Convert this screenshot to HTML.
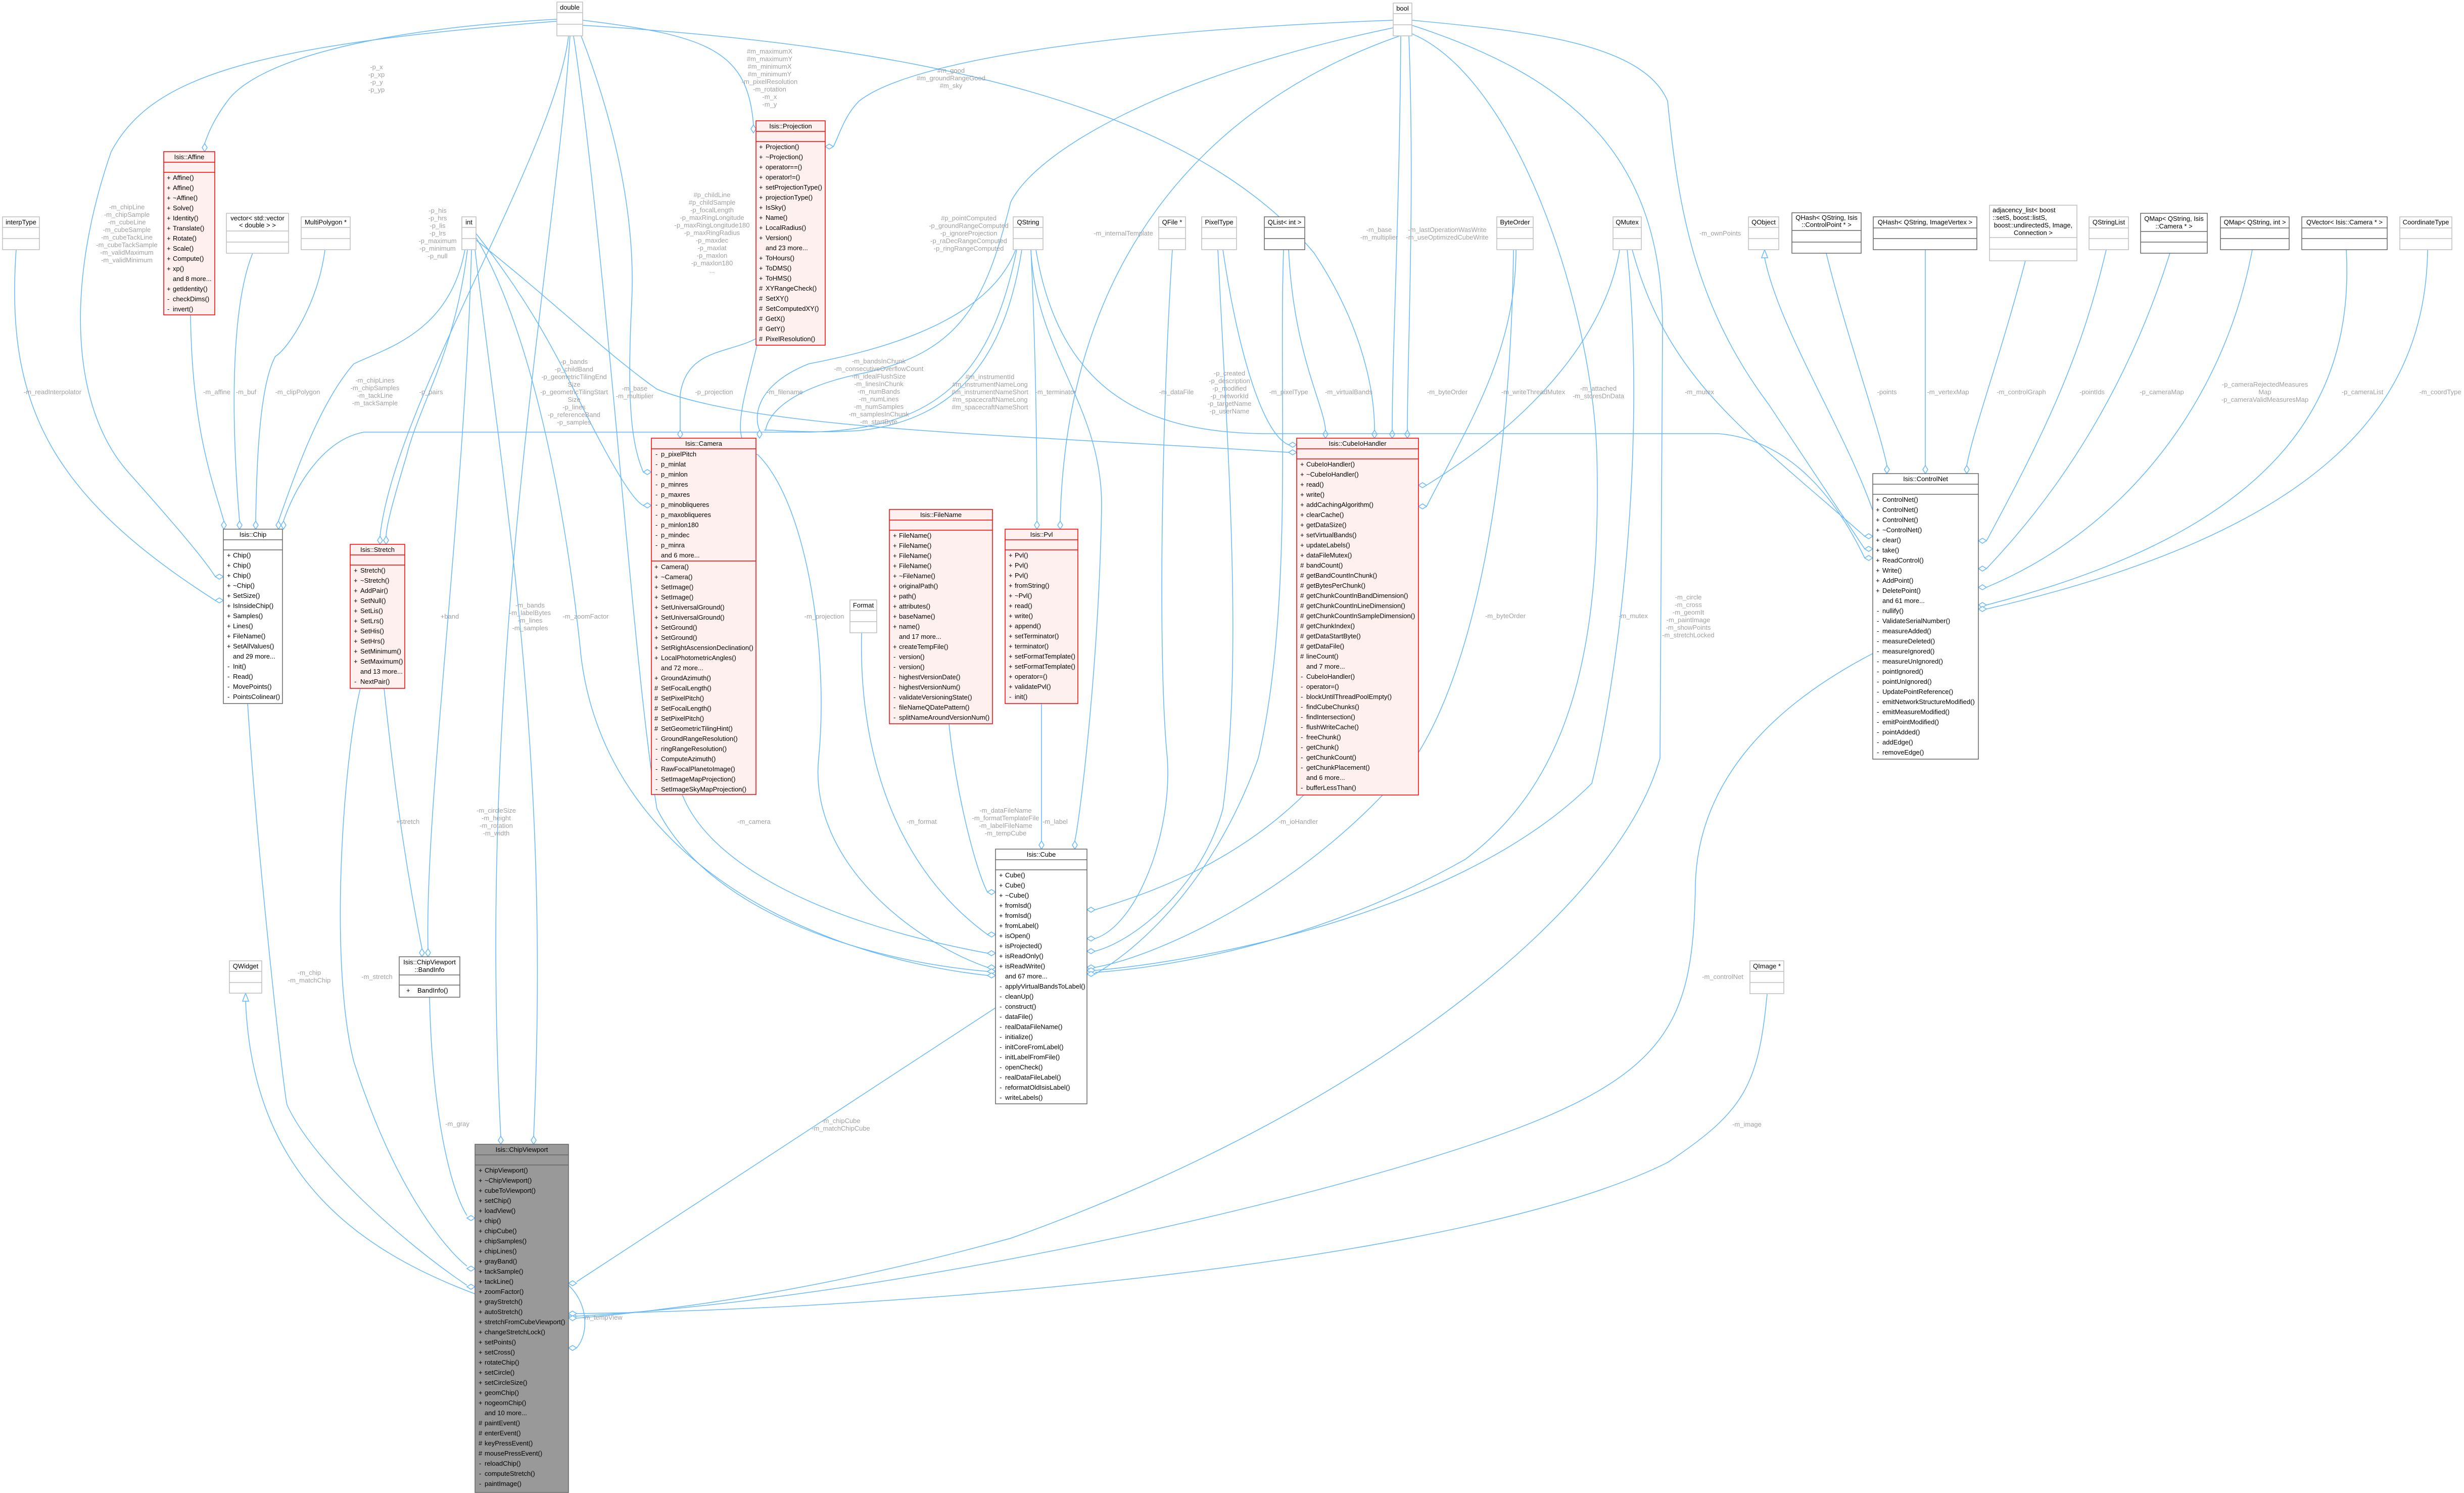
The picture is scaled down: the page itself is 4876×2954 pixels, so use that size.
<!DOCTYPE html>
<html><head><meta charset="utf-8"><style>
html,body{margin:0;padding:0;background:#fff}
svg{display:block}
text{font-family:"Liberation Sans",Arial,sans-serif;font-size:13px;fill:#000}
.l{fill:#a0a0a0;text-anchor:middle}
.c{text-anchor:middle}
.e{fill:none;stroke:#63b8ff;stroke-width:1.5}
.d{fill:#fff;stroke:#63b8ff;stroke-width:1.5}
.bg{fill:#fff;stroke:#bfbfbf;stroke-width:1.5}
.bd{fill:#fff;stroke:#666;stroke-width:1.5}
.br{fill:#fff0f0;stroke:#ff0000;stroke-width:1.5}
.bv{fill:#999;stroke:#666;stroke-width:1.5}
.sg{stroke:#bfbfbf;stroke-width:1.5}
.sd{stroke:#666;stroke-width:1.5}
.sr{stroke:#ff0000;stroke-width:1.5}
</style></head><body>
<svg width="4876" height="2954" viewBox="0 0 4876 2954" xmlns="http://www.w3.org/2000/svg">

<!-- EDGES -->
<g>
<path class="e" d="M1102,38 C700,60 500,130 450,200 C420,240 410,270 405,284"/><polygon class="d" points="405,300 400,292 405,284 410,292"/>
<path class="e" d="M1102,42 C500,90 300,150 220,300 C130,560 140,800 250,930 C330,1020 400,1100 426,1141"/><polygon class="d" points="442,1141 434,1136 426,1141 434,1146"/>
<path class="e" d="M32,494 C10,800 100,980 426,1188"/><polygon class="d" points="442,1188 434,1183 426,1188 434,1193"/>
<path class="e" d="M377,623 C380,850 420,950 443,1031"/><polygon class="d" points="443,1047 438,1039 443,1031 448,1039"/>
<path class="e" d="M500,501 C460,600 455,800 474,1031"/><polygon class="d" points="474,1047 469,1039 474,1031 479,1039"/>
<path class="e" d="M643,494 C630,600 570,690 545,705 C515,760 508,900 506,1031"/><polygon class="d" points="506,1047 501,1039 506,1031 511,1039"/>
<path class="e" d="M920,494 C890,660 760,690 700,720 C630,800 580,950 551,1031"/><polygon class="d" points="551,1047 546,1039 551,1031 556,1039"/>
<path class="e" d="M2012,494 C1960,750 1850,850 1600,855 L720,855 C640,870 585,960 561,1031"/><polygon class="d" points="561,1047 556,1039 561,1031 566,1039"/>
<path class="e" d="M1125,71 C1100,300 780,800 752,1061"/><polygon class="d" points="752,1077 747,1069 752,1061 757,1069"/>
<path class="e" d="M925,494 C900,700 830,800 805,900 C775,1000 765,1040 764,1061"/><polygon class="d" points="764,1077 759,1069 764,1061 769,1069"/>
<path class="e" d="M760,1362 C780,1550 800,1700 835,1877"/><polygon class="d" points="835,1893 830,1885 835,1877 840,1885"/>
<path class="e" d="M933,494 C920,1000 840,1600 847,1877"/><polygon class="d" points="847,1893 842,1885 847,1877 852,1885"/>
<path class="e" d="M713,1362 C680,1500 650,1900 700,2100 C780,2350 880,2470 924,2505"/><polygon class="d" points="940,2510 932,2505 924,2510 932,2515"/>
<path class="e" d="M490,1392 C510,1700 560,2150 568,2186 C620,2300 800,2460 924,2543"/><polygon class="d" points="940,2546 932,2541 924,2546 932,2551"/>
<path class="e" d="M940,2560 C700,2470 500,2320 486,1981"/><polygon class="d" points="486,1965 480,1981 492,1981"/>
<path class="e" d="M850,1973 C855,2200 890,2350 924,2405"/><polygon class="d" points="940,2410 932,2405 924,2410 932,2415"/>
<path class="e" d="M1128,71 C1100,500 940,1300 991,2248"/><polygon class="d" points="991,2264 986,2256 991,2248 996,2256"/>
<path class="e" d="M940,494 C1000,1000 1090,1500 1056,2248"/><polygon class="d" points="1056,2264 1051,2256 1056,2248 1061,2256"/>
<path class="e" d="M1970,1994 L1141,2536"/><polygon class="d" points="1125,2539 1133,2534 1141,2539 1133,2544"/>
<path class="e" d="M1125,2543 C1165,2580 1165,2640 1141,2667"/><polygon class="d" points="1125,2667 1133,2662 1141,2667 1133,2672"/>
<path class="e" d="M3706,1293 C3500,1400 3360,1550 3355,1750 C3350,2050 3300,2150 2800,2300 C2300,2450 1600,2580 1141,2604"/><polygon class="d" points="1125,2604 1133,2599 1141,2604 1133,2609"/>
<path class="e" d="M3497,1966 C3480,2150 3450,2200 3300,2300 C2900,2500 1800,2590 1141,2599"/><polygon class="d" points="1125,2599 1133,2594 1141,2599 1133,2604"/>
<path class="e" d="M2794,50 C3100,150 3290,300 3290,650 L3285,1500 C3200,1800 2700,2200 2000,2450 C1600,2560 1300,2595 1141,2608"/><polygon class="d" points="1125,2608 1133,2603 1141,2608 1133,2613"/>
<path class="e" d="M1878,1432 C1890,1560 1930,1720 1954,1765"/><polygon class="d" points="1970,1765 1962,1760 1954,1765 1962,1770"/>
<path class="e" d="M1705,1252 C1700,1450 1750,1700 1954,1849"/><polygon class="d" points="1970,1849 1962,1844 1954,1849 1962,1854"/>
<path class="e" d="M1350,1572 C1400,1700 1600,1820 1954,1886"/><polygon class="d" points="1970,1886 1962,1881 1954,1886 1962,1891"/>
<path class="e" d="M1498,683 C1470,800 1440,880 1500,900 C1600,1000 1640,1300 1620,1500 C1600,1700 1800,1860 1954,1914"/><polygon class="d" points="1970,1914 1962,1909 1954,1914 1962,1919"/>
<path class="e" d="M1135,71 C1200,500 1250,1300 1300,1600 C1400,1800 1700,1900 1954,1922"/><polygon class="d" points="1970,1922 1962,1917 1954,1922 1962,1927"/>
<path class="e" d="M942,470 C1050,650 1120,1000 1150,1300 C1200,1700 1600,1890 1954,1930"/><polygon class="d" points="1970,1930 1962,1925 1954,1930 1962,1935"/>
<path class="e" d="M2061,1392 L2061,1664"/><polygon class="d" points="2061,1680 2056,1672 2061,1664 2066,1672"/>
<path class="e" d="M2040,494 C2050,700 2180,800 2180,1000 C2175,1300 2140,1600 2127,1664"/><polygon class="d" points="2127,1680 2122,1672 2127,1664 2132,1672"/>
<path class="e" d="M2580,1573 C2450,1700 2300,1760 2167,1800"/><polygon class="d" points="2151,1800 2159,1795 2167,1800 2159,1805"/>
<path class="e" d="M2320,494 C2300,800 2290,1300 2310,1500 C2320,1650 2250,1830 2167,1857"/><polygon class="d" points="2151,1857 2159,1852 2167,1857 2159,1862"/>
<path class="e" d="M2410,494 C2430,900 2460,1300 2420,1600 C2380,1750 2250,1860 2167,1882"/><polygon class="d" points="2151,1882 2159,1877 2167,1882 2159,1887"/>
<path class="e" d="M2995,494 C2990,900 2930,1300 2800,1500 C2600,1750 2300,1890 2167,1914"/><polygon class="d" points="2151,1914 2159,1909 2167,1914 2159,1919"/>
<path class="e" d="M3220,494 C3260,900 3200,1350 3150,1550 C2900,1800 2400,1900 2167,1920"/><polygon class="d" points="2151,1920 2159,1915 2167,1920 2159,1925"/>
<path class="e" d="M2540,494 C2530,800 2560,1200 2490,1500 C2400,1750 2250,1880 2167,1927"/><polygon class="d" points="2151,1927 2159,1922 2167,1927 2159,1932"/>
<path class="e" d="M2790,65 C3000,150 3150,600 3160,900 C3170,1300 3100,1550 2900,1700 C2600,1870 2300,1915 2167,1924"/>
<path class="e" d="M2550,494 C2560,700 2620,800 2623,851"/><polygon class="d" points="2623,867 2618,859 2623,851 2628,859"/>
<path class="e" d="M1153,50 C1800,90 2350,200 2600,500 C2700,650 2720,780 2720,851"/><polygon class="d" points="2720,867 2715,859 2720,851 2725,859"/>
<path class="e" d="M2772,71 C2770,400 2755,700 2755,851"/><polygon class="d" points="2755,867 2750,859 2755,851 2760,859"/>
<path class="e" d="M2788,71 C2800,400 2785,700 2785,851"/><polygon class="d" points="2785,867 2780,859 2785,851 2790,859"/>
<path class="e" d="M2420,494 C2450,700 2500,860 2550,880"/><polygon class="d" points="2566,880 2558,875 2550,880 2558,885"/>
<path class="e" d="M942,475 C1100,600 1200,700 1300,770 C1500,850 2000,860 2550,895"/><polygon class="d" points="2566,895 2558,890 2550,895 2558,900"/>
<path class="e" d="M3000,494 C3000,700 2900,850 2823,1002"/><polygon class="d" points="2807,1002 2815,997 2823,1002 2815,1007"/>
<path class="e" d="M3205,494 C3180,650 3050,820 2823,960"/><polygon class="d" points="2807,960 2815,955 2823,960 2815,965"/>
<path class="e" d="M3614,501 C3650,650 3720,850 3734,921"/><polygon class="d" points="3734,937 3729,929 3734,921 3739,929"/>
<path class="e" d="M3810,494 L3810,921"/><polygon class="d" points="3810,937 3805,929 3810,921 3815,929"/>
<path class="e" d="M4008,516 C3960,700 3905,850 3892,921"/><polygon class="d" points="3892,937 3887,929 3892,921 3897,929"/>
<path class="e" d="M4168,494 C4120,700 4050,850 3931,1070"/><polygon class="d" points="3915,1070 3923,1065 3931,1070 3923,1075"/>
<path class="e" d="M4294,501 C4200,800 4050,1000 3931,1125"/><polygon class="d" points="3915,1125 3923,1120 3931,1125 3923,1130"/>
<path class="e" d="M4457,494 C4400,800 4200,1050 3931,1162"/><polygon class="d" points="3915,1162 3923,1157 3931,1162 3923,1167"/>
<path class="e" d="M4643,494 C4660,800 4500,1050 3931,1197"/><polygon class="d" points="3915,1197 3923,1192 3931,1197 3923,1202"/>
<path class="e" d="M4804,494 C4800,800 4600,1050 3931,1205"/><polygon class="d" points="3915,1205 3923,1200 3931,1205 3923,1210"/>
<path class="e" d="M3706,1010 C3650,850 3520,650 3492,510"/><polygon class="d" points="3492,494 3486,510 3498,510"/>
<path class="e" d="M3230,494 C3300,750 3450,850 3690,1061"/><polygon class="d" points="3706,1061 3698,1056 3690,1061 3698,1066"/>
<path class="e" d="M2794,40 C3000,60 3250,80 3300,200 C3320,400 3350,600 3500,800 C3600,950 3660,1040 3690,1086"/><polygon class="d" points="3706,1086 3698,1081 3690,1086 3698,1091"/>
<path class="e" d="M2050,494 C2100,800 2300,855 2500,858 L3400,858 C3550,870 3640,1000 3690,1104"/><polygon class="d" points="3706,1104 3698,1099 3690,1104 3698,1109"/>
<path class="e" d="M1153,40 C1400,70 1480,100 1491,247"/><polygon class="d" points="1491,263 1486,255 1491,247 1496,255"/>
<path class="e" d="M2757,40 C2200,60 1800,120 1700,200 C1670,230 1660,270 1649,290"/><polygon class="d" points="1633,290 1641,285 1649,290 1641,295"/>
<path class="e" d="M1496,670 C1440,700 1360,690 1346,780 L1346,851"/><polygon class="d" points="1346,867 1341,859 1346,851 1351,859"/>
<path class="e" d="M1150,71 C1200,200 1260,400 1250,600 C1240,800 1250,880 1273,934"/><polygon class="d" points="1289,934 1281,929 1273,934 1281,939"/>
<path class="e" d="M2010,494 C1950,650 1700,700 1600,720 C1500,760 1490,820 1503,851"/><polygon class="d" points="1503,867 1498,859 1503,851 1508,859"/>
<path class="e" d="M2022,494 C1990,700 1900,830 1700,852 C1600,858 1530,850 1512,851"/>
<path class="e" d="M2757,55 C2300,150 2050,300 2000,400 C1950,600 1900,700 1700,740 C1560,770 1520,820 1515,851"/>
<path class="e" d="M2040,494 C2050,700 2052,900 2052,1031"/><polygon class="d" points="2052,1047 2047,1039 2052,1031 2057,1039"/>
<path class="e" d="M2770,71 C2400,200 2110,500 2098,1031"/><polygon class="d" points="2098,1047 2093,1039 2098,1031 2103,1039"/>
<path class="e" d="M942,462 C1050,600 1100,700 1150,800 C1200,900 1250,990 1273,1000"/><polygon class="d" points="1289,1000 1281,995 1273,1000 1281,1005"/>
</g>

<!-- EDGE LABELS -->
<g>
<text class="l" x="745" y="137">-p_x</text><text class="l" x="745" y="152">-p_xp</text><text class="l" x="745" y="167">-p_y</text><text class="l" x="745" y="182">-p_yp</text>
<text class="l" x="251" y="414">-m_chipLine</text><text class="l" x="251" y="429">-m_chipSample</text><text class="l" x="251" y="444">-m_cubeLine</text><text class="l" x="251" y="459">-m_cubeSample</text><text class="l" x="251" y="474">-m_cubeTackLine</text><text class="l" x="251" y="489">-m_cubeTackSample</text><text class="l" x="251" y="504">-m_validMaximum</text><text class="l" x="251" y="519">-m_validMinimum</text>
<text class="l" x="104" y="780">-m_readInterpolator</text>
<text class="l" x="429" y="780">-m_affine</text><text class="l" x="487" y="780">-m_buf</text><text class="l" x="589" y="780">-m_clipPolygon</text>
<text class="l" x="742" y="757">-m_chipLines</text><text class="l" x="742" y="772">-m_chipSamples</text><text class="l" x="742" y="787">-m_tackLine</text><text class="l" x="742" y="802">-m_tackSample</text>
<text class="l" x="853" y="780">-p_pairs</text>
<text class="l" x="866" y="421">-p_his</text><text class="l" x="866" y="436">-p_hrs</text><text class="l" x="866" y="451">-p_lis</text><text class="l" x="866" y="466">-p_lrs</text><text class="l" x="866" y="481">-p_maximum</text><text class="l" x="866" y="496">-p_minimum</text><text class="l" x="866" y="511">-p_null</text>
<text class="l" x="1409" y="390">#p_childLine</text><text class="l" x="1409" y="405">#p_childSample</text><text class="l" x="1409" y="420">-p_focalLength</text><text class="l" x="1409" y="435">-p_maxRingLongitude</text><text class="l" x="1409" y="450">-p_maxRingLongitude180</text><text class="l" x="1409" y="465">-p_maxRingRadius</text><text class="l" x="1409" y="480">-p_maxdec</text><text class="l" x="1409" y="495">-p_maxlat</text><text class="l" x="1409" y="510">-p_maxlon</text><text class="l" x="1409" y="525">-p_maxlon180</text><text class="l" x="1409" y="540">...</text>
<text class="l" x="1523" y="106">#m_maximumX</text><text class="l" x="1523" y="121">#m_maximumY</text><text class="l" x="1523" y="136">#m_minimumX</text><text class="l" x="1523" y="151">#m_minimumY</text><text class="l" x="1523" y="166">-m_pixelResolution</text><text class="l" x="1523" y="181">-m_rotation</text><text class="l" x="1523" y="196">-m_x</text><text class="l" x="1523" y="211">-m_y</text>
<text class="l" x="1882" y="144">#m_good</text><text class="l" x="1882" y="159">#m_groundRangeGood</text><text class="l" x="1882" y="174">#m_sky</text>
<text class="l" x="1917" y="436">#p_pointComputed</text><text class="l" x="1917" y="451">-p_groundRangeComputed</text><text class="l" x="1917" y="466">-p_ignoreProjection</text><text class="l" x="1917" y="481">-p_raDecRangeComputed</text><text class="l" x="1917" y="496">-p_ringRangeComputed</text>
<text class="l" x="2223" y="466">-m_internalTemplate</text>
<text class="l" x="2729" y="459">-m_base</text><text class="l" x="2729" y="474">-m_multiplier</text>
<text class="l" x="2864" y="459">-m_lastOperationWasWrite</text><text class="l" x="2864" y="474">-m_useOptimizedCubeWrite</text>
<text class="l" x="3404" y="466">-m_ownPoints</text>
<text class="l" x="1413" y="780">-p_projection</text><text class="l" x="1553" y="780">-m_filename</text>
<text class="l" x="1739" y="719">-m_bandsInChunk</text><text class="l" x="1739" y="734">-m_consecutiveOverflowCount</text><text class="l" x="1739" y="749">-m_idealFlushSize</text><text class="l" x="1739" y="764">-m_linesInChunk</text><text class="l" x="1739" y="779">-m_numBands</text><text class="l" x="1739" y="794">-m_numLines</text><text class="l" x="1739" y="809">-m_numSamples</text><text class="l" x="1739" y="824">-m_samplesInChunk</text><text class="l" x="1739" y="839">-m_startByte</text>
<text class="l" x="1959" y="750">#m_instrumentId</text><text class="l" x="1959" y="765">#m_instrumentNameLong</text><text class="l" x="1959" y="780">#m_instrumentNameShort</text><text class="l" x="1959" y="795">#m_spacecraftNameLong</text><text class="l" x="1959" y="810">#m_spacecraftNameShort</text>
<text class="l" x="2089" y="780">-m_terminator</text><text class="l" x="2328" y="780">-m_dataFile</text>
<text class="l" x="2433" y="743">-p_created</text><text class="l" x="2433" y="758">-p_description</text><text class="l" x="2433" y="773">-p_modified</text><text class="l" x="2433" y="788">-p_networkId</text><text class="l" x="2433" y="803">-p_targetName</text><text class="l" x="2433" y="818">-p_userName</text>
<text class="l" x="2550" y="780">-m_pixelType</text><text class="l" x="2669" y="780">-m_virtualBands</text><text class="l" x="2864" y="780">-m_byteOrder</text><text class="l" x="3034" y="780">-m_writeThreadMutex</text>
<text class="l" x="3163" y="773">-m_attached</text><text class="l" x="3163" y="788">-m_storesDnData</text>
<text class="l" x="3363" y="780">-m_mutex</text>
<text class="l" x="3734" y="780">-points</text><text class="l" x="3855" y="780">-m_vertexMap</text><text class="l" x="4000" y="780">-m_controlGraph</text><text class="l" x="4140" y="780">-pointIds</text><text class="l" x="4278" y="780">-p_cameraMap</text>
<text class="l" x="4482" y="765">-p_cameraRejectedMeasures</text><text class="l" x="4482" y="780">Map</text><text class="l" x="4482" y="795">-p_cameraValidMeasuresMap</text>
<text class="l" x="4675" y="780">-p_cameraList</text><text class="l" x="4829" y="780">-m_coordType</text>
<text class="l" x="1136" y="720">-p_bands</text><text class="l" x="1136" y="735">-p_childBand</text><text class="l" x="1136" y="750">-p_geometricTilingEnd</text><text class="l" x="1136" y="765">Size</text><text class="l" x="1136" y="780">-p_geometricTilingStart</text><text class="l" x="1136" y="795">Size</text><text class="l" x="1136" y="810">-p_lines</text><text class="l" x="1136" y="825">-p_referenceBand</text><text class="l" x="1136" y="840">-p_samples</text>
<text class="l" x="1256" y="773">-m_base</text><text class="l" x="1256" y="788">-m_multiplier</text>
<text class="l" x="890" y="1224">+band</text>
<text class="l" x="1049" y="1202">-m_bands</text><text class="l" x="1049" y="1217">-m_labelBytes</text><text class="l" x="1049" y="1232">-m_lines</text><text class="l" x="1049" y="1247">-m_samples</text>
<text class="l" x="1159" y="1224">-m_zoomFactor</text>
<text class="l" x="1631" y="1224">-m_projection</text>
<text class="l" x="2979" y="1223">-m_byteOrder</text><text class="l" x="3232" y="1223">-m_mutex</text>
<text class="l" x="3341" y="1186">-m_circle</text><text class="l" x="3341" y="1201">-m_cross</text><text class="l" x="3341" y="1216">-m_geomIt</text><text class="l" x="3341" y="1231">-m_paintImage</text><text class="l" x="3341" y="1246">-m_showPoints</text><text class="l" x="3341" y="1261">-m_stretchLocked</text>
<text class="l" x="1492" y="1630">-m_camera</text><text class="l" x="1824" y="1630">-m_format</text>
<text class="l" x="1990" y="1608">-m_dataFileName</text><text class="l" x="1990" y="1623">-m_formatTemplateFile</text><text class="l" x="1990" y="1638">-m_labelFileName</text><text class="l" x="1990" y="1653">-m_tempCube</text>
<text class="l" x="2088" y="1630">-m_label</text><text class="l" x="2569" y="1630">-m_ioHandler</text>
<text class="l" x="807" y="1630">+stretch</text>
<text class="l" x="982" y="1608">-m_circleSize</text><text class="l" x="982" y="1623">-m_height</text><text class="l" x="982" y="1638">-m_rotation</text><text class="l" x="982" y="1653">-m_width</text>
<text class="l" x="612" y="1929">-m_chip</text><text class="l" x="612" y="1944">-m_matchChip</text>
<text class="l" x="746" y="1937">-m_stretch</text><text class="l" x="3409" y="1937">-m_controlNet</text>
<text class="l" x="905" y="2228">-m_gray</text>
<text class="l" x="1664" y="2222">-m_chipCube</text><text class="l" x="1664" y="2237">-m_matchChipCube</text>
<text class="l" x="3457" y="2229">-m_image</text>
<text class="l" x="1192" y="2611">-m_tempView</text>
</g>

<!-- SMALL TYPE BOXES -->
<g transform="translate(1102,4)"><rect class="bg" width="51" height="67"/><line class="sg" x1="0" y1="21" x2="51" y2="21"/><line class="sg" x1="0" y1="44" x2="51" y2="44"/><text class="c" x="25.5" y="15">double</text></g>
<g transform="translate(2757,6)"><rect class="bg" width="37" height="65"/><line class="sg" x1="0" y1="21" x2="37" y2="21"/><line class="sg" x1="0" y1="43" x2="37" y2="43"/><text class="c" x="18.5" y="15">bool</text></g>
<g transform="translate(5,429)"><rect class="bg" width="73" height="65"/><line class="sg" x1="0" y1="21" x2="73" y2="21"/><line class="sg" x1="0" y1="43" x2="73" y2="43"/><text class="c" x="36.5" y="15">interpType</text></g>
<g transform="translate(448,422)"><rect class="bg" width="123" height="79"/><line class="sg" x1="0" y1="35" x2="123" y2="35"/><line class="sg" x1="0" y1="57" x2="123" y2="57"/><text class="c" x="61.5" y="14">vector&lt; std::vector</text><text class="c" x="61.5" y="28">&lt; double &gt; &gt;</text></g>
<g transform="translate(596,429)"><rect class="bg" width="97" height="65"/><line class="sg" x1="0" y1="21" x2="97" y2="21"/><line class="sg" x1="0" y1="43" x2="97" y2="43"/><text class="c" x="48.5" y="15">MultiPolygon *</text></g>
<g transform="translate(914,429)"><rect class="bg" width="28" height="65"/><line class="sg" x1="0" y1="21" x2="28" y2="21"/><line class="sg" x1="0" y1="43" x2="28" y2="43"/><text class="c" x="14" y="15">int</text></g>
<g transform="translate(2005,429)"><rect class="bg" width="59" height="65"/><line class="sg" x1="0" y1="21" x2="59" y2="21"/><line class="sg" x1="0" y1="43" x2="59" y2="43"/><text class="c" x="29.5" y="15">QString</text></g>
<g transform="translate(2293,429)"><rect class="bg" width="53" height="65"/><line class="sg" x1="0" y1="21" x2="53" y2="21"/><line class="sg" x1="0" y1="43" x2="53" y2="43"/><text class="c" x="26.5" y="15">QFile *</text></g>
<g transform="translate(2378,429)"><rect class="bg" width="69" height="65"/><line class="sg" x1="0" y1="21" x2="69" y2="21"/><line class="sg" x1="0" y1="43" x2="69" y2="43"/><text class="c" x="34.5" y="15">PixelType</text></g>
<g transform="translate(2502,429)"><rect class="bd" width="80" height="65"/><line class="sd" x1="0" y1="21" x2="80" y2="21"/><line class="sd" x1="0" y1="43" x2="80" y2="43"/><text class="c" x="40" y="15">QList&lt; int &gt;</text></g>
<g transform="translate(2962,429)"><rect class="bg" width="72" height="65"/><line class="sg" x1="0" y1="21" x2="72" y2="21"/><line class="sg" x1="0" y1="43" x2="72" y2="43"/><text class="c" x="36" y="15">ByteOrder</text></g>
<g transform="translate(3192,429)"><rect class="bg" width="56" height="65"/><line class="sg" x1="0" y1="21" x2="56" y2="21"/><line class="sg" x1="0" y1="43" x2="56" y2="43"/><text class="c" x="28" y="15">QMutex</text></g>
<g transform="translate(3460,429)"><rect class="bg" width="60" height="65"/><line class="sg" x1="0" y1="21" x2="60" y2="21"/><line class="sg" x1="0" y1="43" x2="60" y2="43"/><text class="c" x="30" y="15">QObject</text></g>
<g transform="translate(3546,421)"><rect class="bd" width="137" height="80"/><line class="sd" x1="0" y1="35" x2="137" y2="35"/><line class="sd" x1="0" y1="58" x2="137" y2="58"/><text class="c" x="68.5" y="14">QHash&lt; QString, Isis</text><text class="c" x="68.5" y="28">::ControlPoint * &gt;</text></g>
<g transform="translate(3707,429)"><rect class="bd" width="205" height="65"/><line class="sd" x1="0" y1="22" x2="205" y2="22"/><line class="sd" x1="0" y1="43" x2="205" y2="43"/><text class="c" x="102.5" y="15">QHash&lt; QString, ImageVertex &gt;</text></g>
<g transform="translate(3937,406)"><rect class="bg" width="173" height="110"/><line class="sg" x1="0" y1="64" x2="173" y2="64"/><line class="sg" x1="0" y1="87" x2="173" y2="87"/><text x="6" y="14">adjacency_list&lt; boost</text><text x="6" y="29">::setS, boost::listS,</text><text class="c" x="86.5" y="44">boost::undirectedS, Image,</text><text class="c" x="86.5" y="59">Connection &gt;</text></g>
<g transform="translate(4134,429)"><rect class="bg" width="78" height="65"/><line class="sg" x1="0" y1="22" x2="78" y2="22"/><line class="sg" x1="0" y1="43" x2="78" y2="43"/><text class="c" x="39" y="15">QStringList</text></g>
<g transform="translate(4236,422)"><rect class="bd" width="132" height="79"/><line class="sd" x1="0" y1="36" x2="132" y2="36"/><line class="sd" x1="0" y1="57" x2="132" y2="57"/><text class="c" x="66" y="15">QMap&lt; QString, Isis</text><text class="c" x="66" y="30">::Camera * &gt;</text></g>
<g transform="translate(4394,429)"><rect class="bd" width="136" height="65"/><line class="sd" x1="0" y1="22" x2="136" y2="22"/><line class="sd" x1="0" y1="43" x2="136" y2="43"/><text class="c" x="68" y="15">QMap&lt; QString, int &gt;</text></g>
<g transform="translate(4555,429)"><rect class="bd" width="169" height="65"/><line class="sd" x1="0" y1="22" x2="169" y2="22"/><line class="sd" x1="0" y1="43" x2="169" y2="43"/><text class="c" x="84.5" y="15">QVector&lt; Isis::Camera * &gt;</text></g>
<g transform="translate(4749,429)"><rect class="bg" width="103" height="65"/><line class="sg" x1="0" y1="22" x2="103" y2="22"/><line class="sg" x1="0" y1="43" x2="103" y2="43"/><text class="c" x="51.5" y="15">CoordinateType</text></g>
<g transform="translate(1682,1187)"><rect class="bg" width="53" height="65"/><line class="sg" x1="0" y1="21" x2="53" y2="21"/><line class="sg" x1="0" y1="43" x2="53" y2="43"/><text class="c" x="26.5" y="15">Format</text></g>
<g transform="translate(454,1901)"><rect class="bg" width="64" height="64"/><line class="sg" x1="0" y1="21" x2="64" y2="21"/><line class="sg" x1="0" y1="43" x2="64" y2="43"/><text class="c" x="32" y="15">QWidget</text></g>
<g transform="translate(3463,1901)"><rect class="bg" width="67" height="65"/><line class="sg" x1="0" y1="21" x2="67" y2="21"/><line class="sg" x1="0" y1="43" x2="67" y2="43"/><text class="c" x="33.5" y="15">QImage *</text></g>
<g transform="translate(790,1893)"><rect class="bd" width="120" height="80"/><line class="sd" x1="0" y1="36" x2="120" y2="36"/><line class="sd" x1="0" y1="56" x2="120" y2="56"/><text class="c" x="60" y="15">Isis::ChipViewport</text><text class="c" x="60" y="30">::BandInfo</text><text y="71"><tspan x="14">+</tspan><tspan x="36">BandInfo()</tspan></text></g>

<!-- Isis::Affine -->
<g transform="translate(324,300)"><rect class="br" width="101" height="323"/><line class="sr" x1="0" y1="21" x2="101" y2="21"/><line class="sr" x1="0" y1="41" x2="101" y2="41"/><text class="c" x="50.5" y="15">Isis::Affine</text>
<text y="56"><tspan x="6">+</tspan><tspan x="18">Affine()</tspan></text>
<text y="76"><tspan x="6">+</tspan><tspan x="18">Affine()</tspan></text>
<text y="96"><tspan x="6">+</tspan><tspan x="18">~Affine()</tspan></text>
<text y="116"><tspan x="6">+</tspan><tspan x="18">Solve()</tspan></text>
<text y="136"><tspan x="6">+</tspan><tspan x="18">Identity()</tspan></text>
<text y="156"><tspan x="6">+</tspan><tspan x="18">Translate()</tspan></text>
<text y="176"><tspan x="6">+</tspan><tspan x="18">Rotate()</tspan></text>
<text y="196"><tspan x="6">+</tspan><tspan x="18">Scale()</tspan></text>
<text y="216"><tspan x="6">+</tspan><tspan x="18">Compute()</tspan></text>
<text y="236"><tspan x="6">+</tspan><tspan x="18">xp()</tspan></text>
<text y="256"><tspan x="18">and 8 more...</tspan></text>
<text y="276"><tspan x="6">+</tspan><tspan x="18">getIdentity()</tspan></text>
<text y="296"><tspan x="7">-</tspan><tspan x="18">checkDims()</tspan></text>
<text y="316"><tspan x="7">-</tspan><tspan x="18">invert()</tspan></text>
</g>

<!-- Isis::Chip -->
<g transform="translate(442,1047)"><rect class="bd" width="117" height="345"/><line class="sd" x1="0" y1="21" x2="117" y2="21"/><line class="sd" x1="0" y1="41" x2="117" y2="41"/><text class="c" x="58.5" y="15">Isis::Chip</text>
<text y="56"><tspan x="7">+</tspan><tspan x="19">Chip()</tspan></text>
<text y="76"><tspan x="7">+</tspan><tspan x="19">Chip()</tspan></text>
<text y="96"><tspan x="7">+</tspan><tspan x="19">Chip()</tspan></text>
<text y="116"><tspan x="7">+</tspan><tspan x="19">~Chip()</tspan></text>
<text y="136"><tspan x="7">+</tspan><tspan x="19">SetSize()</tspan></text>
<text y="156"><tspan x="7">+</tspan><tspan x="19">IsInsideChip()</tspan></text>
<text y="176"><tspan x="7">+</tspan><tspan x="19">Samples()</tspan></text>
<text y="196"><tspan x="7">+</tspan><tspan x="19">Lines()</tspan></text>
<text y="216"><tspan x="7">+</tspan><tspan x="19">FileName()</tspan></text>
<text y="236"><tspan x="7">+</tspan><tspan x="19">SetAllValues()</tspan></text>
<text y="256"><tspan x="19">and 29 more...</tspan></text>
<text y="276"><tspan x="8">-</tspan><tspan x="19">Init()</tspan></text>
<text y="296"><tspan x="8">-</tspan><tspan x="19">Read()</tspan></text>
<text y="316"><tspan x="8">-</tspan><tspan x="19">MovePoints()</tspan></text>
<text y="336"><tspan x="8">-</tspan><tspan x="19">PointsColinear()</tspan></text>
</g>

<!-- Isis::Stretch -->
<g transform="translate(693,1077)"><rect class="br" width="108" height="285"/><line class="sr" x1="0" y1="21" x2="108" y2="21"/><line class="sr" x1="0" y1="41" x2="108" y2="41"/><text class="c" x="54" y="15">Isis::Stretch</text>
<text y="56"><tspan x="7">+</tspan><tspan x="20">Stretch()</tspan></text>
<text y="76"><tspan x="7">+</tspan><tspan x="20">~Stretch()</tspan></text>
<text y="96"><tspan x="7">+</tspan><tspan x="20">AddPair()</tspan></text>
<text y="116"><tspan x="7">+</tspan><tspan x="20">SetNull()</tspan></text>
<text y="136"><tspan x="7">+</tspan><tspan x="20">SetLis()</tspan></text>
<text y="156"><tspan x="7">+</tspan><tspan x="20">SetLrs()</tspan></text>
<text y="176"><tspan x="7">+</tspan><tspan x="20">SetHis()</tspan></text>
<text y="196"><tspan x="7">+</tspan><tspan x="20">SetHrs()</tspan></text>
<text y="216"><tspan x="7">+</tspan><tspan x="20">SetMinimum()</tspan></text>
<text y="236"><tspan x="7">+</tspan><tspan x="20">SetMaximum()</tspan></text>
<text y="256"><tspan x="20">and 13 more...</tspan></text>
<text y="276"><tspan x="8">-</tspan><tspan x="20">NextPair()</tspan></text>
</g>

<!-- Isis::Projection -->
<g transform="translate(1496,239)"><rect class="br" width="137" height="444"/><line class="sr" x1="0" y1="21" x2="137" y2="21"/><line class="sr" x1="0" y1="41" x2="137" y2="41"/><text class="c" x="68.5" y="15">Isis::Projection</text>
<text y="56"><tspan x="6">+</tspan><tspan x="19">Projection()</tspan></text>
<text y="76"><tspan x="6">+</tspan><tspan x="19">~Projection()</tspan></text>
<text y="96"><tspan x="6">+</tspan><tspan x="19">operator==()</tspan></text>
<text y="116"><tspan x="6">+</tspan><tspan x="19">operator!=()</tspan></text>
<text y="136"><tspan x="6">+</tspan><tspan x="19">setProjectionType()</tspan></text>
<text y="156"><tspan x="6">+</tspan><tspan x="19">projectionType()</tspan></text>
<text y="176"><tspan x="6">+</tspan><tspan x="19">IsSky()</tspan></text>
<text y="196"><tspan x="6">+</tspan><tspan x="19">Name()</tspan></text>
<text y="216"><tspan x="6">+</tspan><tspan x="19">LocalRadius()</tspan></text>
<text y="236"><tspan x="6">+</tspan><tspan x="19">Version()</tspan></text>
<text y="256"><tspan x="19">and 23 more...</tspan></text>
<text y="276"><tspan x="6">+</tspan><tspan x="19">ToHours()</tspan></text>
<text y="296"><tspan x="6">+</tspan><tspan x="19">ToDMS()</tspan></text>
<text y="316"><tspan x="6">+</tspan><tspan x="19">ToHMS()</tspan></text>
<text y="336"><tspan x="6">#</tspan><tspan x="19">XYRangeCheck()</tspan></text>
<text y="356"><tspan x="6">#</tspan><tspan x="19">SetXY()</tspan></text>
<text y="376"><tspan x="6">#</tspan><tspan x="19">SetComputedXY()</tspan></text>
<text y="396"><tspan x="6">#</tspan><tspan x="19">GetX()</tspan></text>
<text y="416"><tspan x="6">#</tspan><tspan x="19">GetY()</tspan></text>
<text y="436"><tspan x="6">#</tspan><tspan x="19">PixelResolution()</tspan></text>
</g>

<!-- Isis::Camera -->
<g transform="translate(1289,867)"><rect class="br" width="207" height="705"/><line class="sr" x1="0" y1="21" x2="207" y2="21"/><line class="sr" x1="0" y1="243" x2="207" y2="243"/><text class="c" x="103.5" y="15">Isis::Camera</text>
<text y="36"><tspan x="8">-</tspan><tspan x="19">p_pixelPitch</tspan></text>
<text y="56"><tspan x="8">-</tspan><tspan x="19">p_minlat</tspan></text>
<text y="76"><tspan x="8">-</tspan><tspan x="19">p_minlon</tspan></text>
<text y="96"><tspan x="8">-</tspan><tspan x="19">p_minres</tspan></text>
<text y="116"><tspan x="8">-</tspan><tspan x="19">p_maxres</tspan></text>
<text y="136"><tspan x="8">-</tspan><tspan x="19">p_minobliqueres</tspan></text>
<text y="156"><tspan x="8">-</tspan><tspan x="19">p_maxobliqueres</tspan></text>
<text y="176"><tspan x="8">-</tspan><tspan x="19">p_minlon180</tspan></text>
<text y="196"><tspan x="8">-</tspan><tspan x="19">p_mindec</tspan></text>
<text y="216"><tspan x="8">-</tspan><tspan x="19">p_minra</tspan></text>
<text y="236"><tspan x="19">and 6 more...</tspan></text>
<text y="259"><tspan x="6">+</tspan><tspan x="19">Camera()</tspan></text>
<text y="279"><tspan x="6">+</tspan><tspan x="19">~Camera()</tspan></text>
<text y="299"><tspan x="6">+</tspan><tspan x="19">SetImage()</tspan></text>
<text y="319"><tspan x="6">+</tspan><tspan x="19">SetImage()</tspan></text>
<text y="339"><tspan x="6">+</tspan><tspan x="19">SetUniversalGround()</tspan></text>
<text y="359"><tspan x="6">+</tspan><tspan x="19">SetUniversalGround()</tspan></text>
<text y="379"><tspan x="6">+</tspan><tspan x="19">SetGround()</tspan></text>
<text y="399"><tspan x="6">+</tspan><tspan x="19">SetGround()</tspan></text>
<text y="419"><tspan x="6">+</tspan><tspan x="19">SetRightAscensionDeclination()</tspan></text>
<text y="439"><tspan x="6">+</tspan><tspan x="19">LocalPhotometricAngles()</tspan></text>
<text y="459"><tspan x="19">and 72 more...</tspan></text>
<text y="479"><tspan x="6">+</tspan><tspan x="19">GroundAzimuth()</tspan></text>
<text y="499"><tspan x="6">#</tspan><tspan x="19">SetFocalLength()</tspan></text>
<text y="519"><tspan x="6">#</tspan><tspan x="19">SetPixelPitch()</tspan></text>
<text y="539"><tspan x="6">#</tspan><tspan x="19">SetFocalLength()</tspan></text>
<text y="559"><tspan x="6">#</tspan><tspan x="19">SetPixelPitch()</tspan></text>
<text y="579"><tspan x="6">#</tspan><tspan x="19">SetGeometricTilingHint()</tspan></text>
<text y="599"><tspan x="8">-</tspan><tspan x="19">GroundRangeResolution()</tspan></text>
<text y="619"><tspan x="8">-</tspan><tspan x="19">ringRangeResolution()</tspan></text>
<text y="639"><tspan x="8">-</tspan><tspan x="19">ComputeAzimuth()</tspan></text>
<text y="659"><tspan x="8">-</tspan><tspan x="19">RawFocalPlanetoImage()</tspan></text>
<text y="679"><tspan x="8">-</tspan><tspan x="19">SetImageMapProjection()</tspan></text>
<text y="699"><tspan x="8">-</tspan><tspan x="19">SetImageSkyMapProjection()</tspan></text>
</g>

<!-- Isis::FileName -->
<g transform="translate(1760,1008)"><rect class="br" width="204" height="424"/><line class="sr" x1="0" y1="21" x2="204" y2="21"/><line class="sr" x1="0" y1="41" x2="204" y2="41"/><text class="c" x="102" y="15">Isis::FileName</text>
<text y="56"><tspan x="7">+</tspan><tspan x="19">FileName()</tspan></text>
<text y="76"><tspan x="7">+</tspan><tspan x="19">FileName()</tspan></text>
<text y="96"><tspan x="7">+</tspan><tspan x="19">FileName()</tspan></text>
<text y="116"><tspan x="7">+</tspan><tspan x="19">FileName()</tspan></text>
<text y="136"><tspan x="7">+</tspan><tspan x="19">~FileName()</tspan></text>
<text y="156"><tspan x="7">+</tspan><tspan x="19">originalPath()</tspan></text>
<text y="176"><tspan x="7">+</tspan><tspan x="19">path()</tspan></text>
<text y="196"><tspan x="7">+</tspan><tspan x="19">attributes()</tspan></text>
<text y="216"><tspan x="7">+</tspan><tspan x="19">baseName()</tspan></text>
<text y="236"><tspan x="7">+</tspan><tspan x="19">name()</tspan></text>
<text y="256"><tspan x="19">and 17 more...</tspan></text>
<text y="276"><tspan x="7">+</tspan><tspan x="19">createTempFile()</tspan></text>
<text y="296"><tspan x="8">-</tspan><tspan x="19">version()</tspan></text>
<text y="316"><tspan x="8">-</tspan><tspan x="19">version()</tspan></text>
<text y="336"><tspan x="8">-</tspan><tspan x="19">highestVersionDate()</tspan></text>
<text y="356"><tspan x="8">-</tspan><tspan x="19">highestVersionNum()</tspan></text>
<text y="376"><tspan x="8">-</tspan><tspan x="19">validateVersioningState()</tspan></text>
<text y="396"><tspan x="8">-</tspan><tspan x="19">fileNameQDatePattern()</tspan></text>
<text y="416"><tspan x="8">-</tspan><tspan x="19">splitNameAroundVersionNum()</tspan></text>
</g>

<!-- Isis::Pvl -->
<g transform="translate(1989,1047)"><rect class="br" width="144" height="345"/><line class="sr" x1="0" y1="21" x2="144" y2="21"/><line class="sr" x1="0" y1="41" x2="144" y2="41"/><text class="c" x="72" y="15">Isis::Pvl</text>
<text y="56"><tspan x="7">+</tspan><tspan x="19">Pvl()</tspan></text>
<text y="76"><tspan x="7">+</tspan><tspan x="19">Pvl()</tspan></text>
<text y="96"><tspan x="7">+</tspan><tspan x="19">Pvl()</tspan></text>
<text y="116"><tspan x="7">+</tspan><tspan x="19">fromString()</tspan></text>
<text y="136"><tspan x="7">+</tspan><tspan x="19">~Pvl()</tspan></text>
<text y="156"><tspan x="7">+</tspan><tspan x="19">read()</tspan></text>
<text y="176"><tspan x="7">+</tspan><tspan x="19">write()</tspan></text>
<text y="196"><tspan x="7">+</tspan><tspan x="19">append()</tspan></text>
<text y="216"><tspan x="7">+</tspan><tspan x="19">setTerminator()</tspan></text>
<text y="236"><tspan x="7">+</tspan><tspan x="19">terminator()</tspan></text>
<text y="256"><tspan x="7">+</tspan><tspan x="19">setFormatTemplate()</tspan></text>
<text y="276"><tspan x="7">+</tspan><tspan x="19">setFormatTemplate()</tspan></text>
<text y="296"><tspan x="7">+</tspan><tspan x="19">operator=()</tspan></text>
<text y="316"><tspan x="7">+</tspan><tspan x="19">validatePvl()</tspan></text>
<text y="336"><tspan x="8">-</tspan><tspan x="19">init()</tspan></text>
</g>

<!-- Isis::CubeIoHandler -->
<g transform="translate(2566,867)"><rect class="br" width="241" height="706"/><line class="sr" x1="0" y1="21" x2="241" y2="21"/><line class="sr" x1="0" y1="41" x2="241" y2="41"/><text class="c" x="120.5" y="15">Isis::CubeIoHandler</text>
<text y="56"><tspan x="7">+</tspan><tspan x="19">CubeIoHandler()</tspan></text>
<text y="76"><tspan x="7">+</tspan><tspan x="19">~CubeIoHandler()</tspan></text>
<text y="96"><tspan x="7">+</tspan><tspan x="19">read()</tspan></text>
<text y="116"><tspan x="7">+</tspan><tspan x="19">write()</tspan></text>
<text y="136"><tspan x="7">+</tspan><tspan x="19">addCachingAlgorithm()</tspan></text>
<text y="156"><tspan x="7">+</tspan><tspan x="19">clearCache()</tspan></text>
<text y="176"><tspan x="7">+</tspan><tspan x="19">getDataSize()</tspan></text>
<text y="196"><tspan x="7">+</tspan><tspan x="19">setVirtualBands()</tspan></text>
<text y="216"><tspan x="7">+</tspan><tspan x="19">updateLabels()</tspan></text>
<text y="236"><tspan x="7">+</tspan><tspan x="19">dataFileMutex()</tspan></text>
<text y="256"><tspan x="7">#</tspan><tspan x="19">bandCount()</tspan></text>
<text y="276"><tspan x="7">#</tspan><tspan x="19">getBandCountInChunk()</tspan></text>
<text y="296"><tspan x="7">#</tspan><tspan x="19">getBytesPerChunk()</tspan></text>
<text y="316"><tspan x="7">#</tspan><tspan x="19">getChunkCountInBandDimension()</tspan></text>
<text y="336"><tspan x="7">#</tspan><tspan x="19">getChunkCountInLineDimension()</tspan></text>
<text y="356"><tspan x="7">#</tspan><tspan x="19">getChunkCountInSampleDimension()</tspan></text>
<text y="376"><tspan x="7">#</tspan><tspan x="19">getChunkIndex()</tspan></text>
<text y="396"><tspan x="7">#</tspan><tspan x="19">getDataStartByte()</tspan></text>
<text y="416"><tspan x="7">#</tspan><tspan x="19">getDataFile()</tspan></text>
<text y="436"><tspan x="7">#</tspan><tspan x="19">lineCount()</tspan></text>
<text y="456"><tspan x="19">and 7 more...</tspan></text>
<text y="476"><tspan x="8">-</tspan><tspan x="19">CubeIoHandler()</tspan></text>
<text y="496"><tspan x="8">-</tspan><tspan x="19">operator=()</tspan></text>
<text y="516"><tspan x="8">-</tspan><tspan x="19">blockUntilThreadPoolEmpty()</tspan></text>
<text y="536"><tspan x="8">-</tspan><tspan x="19">findCubeChunks()</tspan></text>
<text y="556"><tspan x="8">-</tspan><tspan x="19">findIntersection()</tspan></text>
<text y="576"><tspan x="8">-</tspan><tspan x="19">flushWriteCache()</tspan></text>
<text y="596"><tspan x="8">-</tspan><tspan x="19">freeChunk()</tspan></text>
<text y="616"><tspan x="8">-</tspan><tspan x="19">getChunk()</tspan></text>
<text y="636"><tspan x="8">-</tspan><tspan x="19">getChunkCount()</tspan></text>
<text y="656"><tspan x="8">-</tspan><tspan x="19">getChunkPlacement()</tspan></text>
<text y="676"><tspan x="19">and 6 more...</tspan></text>
<text y="696"><tspan x="8">-</tspan><tspan x="19">bufferLessThan()</tspan></text>
</g>

<!-- Isis::ControlNet -->
<g transform="translate(3706,937)"><rect class="bd" width="209" height="565"/><line class="sd" x1="0" y1="21" x2="209" y2="21"/><line class="sd" x1="0" y1="41" x2="209" y2="41"/><text class="c" x="104.5" y="15">Isis::ControlNet</text>
<text y="56"><tspan x="6">+</tspan><tspan x="19">ControlNet()</tspan></text>
<text y="76"><tspan x="6">+</tspan><tspan x="19">ControlNet()</tspan></text>
<text y="96"><tspan x="6">+</tspan><tspan x="19">ControlNet()</tspan></text>
<text y="116"><tspan x="6">+</tspan><tspan x="19">~ControlNet()</tspan></text>
<text y="136"><tspan x="6">+</tspan><tspan x="19">clear()</tspan></text>
<text y="156"><tspan x="6">+</tspan><tspan x="19">take()</tspan></text>
<text y="176"><tspan x="6">+</tspan><tspan x="19">ReadControl()</tspan></text>
<text y="196"><tspan x="6">+</tspan><tspan x="19">Write()</tspan></text>
<text y="216"><tspan x="6">+</tspan><tspan x="19">AddPoint()</tspan></text>
<text y="236"><tspan x="6">+</tspan><tspan x="19">DeletePoint()</tspan></text>
<text y="256"><tspan x="19">and 61 more...</tspan></text>
<text y="276"><tspan x="8">-</tspan><tspan x="19">nullify()</tspan></text>
<text y="296"><tspan x="8">-</tspan><tspan x="19">ValidateSerialNumber()</tspan></text>
<text y="316"><tspan x="8">-</tspan><tspan x="19">measureAdded()</tspan></text>
<text y="336"><tspan x="8">-</tspan><tspan x="19">measureDeleted()</tspan></text>
<text y="356"><tspan x="8">-</tspan><tspan x="19">measureIgnored()</tspan></text>
<text y="376"><tspan x="8">-</tspan><tspan x="19">measureUnIgnored()</tspan></text>
<text y="396"><tspan x="8">-</tspan><tspan x="19">pointIgnored()</tspan></text>
<text y="416"><tspan x="8">-</tspan><tspan x="19">pointUnIgnored()</tspan></text>
<text y="436"><tspan x="8">-</tspan><tspan x="19">UpdatePointReference()</tspan></text>
<text y="456"><tspan x="8">-</tspan><tspan x="19">emitNetworkStructureModified()</tspan></text>
<text y="476"><tspan x="8">-</tspan><tspan x="19">emitMeasureModified()</tspan></text>
<text y="496"><tspan x="8">-</tspan><tspan x="19">emitPointModified()</tspan></text>
<text y="516"><tspan x="8">-</tspan><tspan x="19">pointAdded()</tspan></text>
<text y="536"><tspan x="8">-</tspan><tspan x="19">addEdge()</tspan></text>
<text y="556"><tspan x="8">-</tspan><tspan x="19">removeEdge()</tspan></text>
</g>

<!-- Isis::Cube -->
<g transform="translate(1970,1680)"><rect class="bd" width="181" height="504"/><line class="sd" x1="0" y1="21" x2="181" y2="21"/><line class="sd" x1="0" y1="41" x2="181" y2="41"/><text class="c" x="90.5" y="15">Isis::Cube</text>
<text y="56"><tspan x="7">+</tspan><tspan x="19">Cube()</tspan></text>
<text y="76"><tspan x="7">+</tspan><tspan x="19">Cube()</tspan></text>
<text y="96"><tspan x="7">+</tspan><tspan x="19">~Cube()</tspan></text>
<text y="116"><tspan x="7">+</tspan><tspan x="19">fromIsd()</tspan></text>
<text y="136"><tspan x="7">+</tspan><tspan x="19">fromIsd()</tspan></text>
<text y="156"><tspan x="7">+</tspan><tspan x="19">fromLabel()</tspan></text>
<text y="176"><tspan x="7">+</tspan><tspan x="19">isOpen()</tspan></text>
<text y="196"><tspan x="7">+</tspan><tspan x="19">isProjected()</tspan></text>
<text y="216"><tspan x="7">+</tspan><tspan x="19">isReadOnly()</tspan></text>
<text y="236"><tspan x="7">+</tspan><tspan x="19">isReadWrite()</tspan></text>
<text y="256"><tspan x="19">and 67 more...</tspan></text>
<text y="276"><tspan x="8">-</tspan><tspan x="19">applyVirtualBandsToLabel()</tspan></text>
<text y="296"><tspan x="8">-</tspan><tspan x="19">cleanUp()</tspan></text>
<text y="316"><tspan x="8">-</tspan><tspan x="19">construct()</tspan></text>
<text y="336"><tspan x="8">-</tspan><tspan x="19">dataFile()</tspan></text>
<text y="356"><tspan x="8">-</tspan><tspan x="19">realDataFileName()</tspan></text>
<text y="376"><tspan x="8">-</tspan><tspan x="19">initialize()</tspan></text>
<text y="396"><tspan x="8">-</tspan><tspan x="19">initCoreFromLabel()</tspan></text>
<text y="416"><tspan x="8">-</tspan><tspan x="19">initLabelFromFile()</tspan></text>
<text y="436"><tspan x="8">-</tspan><tspan x="19">openCheck()</tspan></text>
<text y="456"><tspan x="8">-</tspan><tspan x="19">realDataFileLabel()</tspan></text>
<text y="476"><tspan x="8">-</tspan><tspan x="19">reformatOldIsisLabel()</tspan></text>
<text y="496"><tspan x="8">-</tspan><tspan x="19">writeLabels()</tspan></text>
</g>

<!-- Isis::ChipViewport -->
<g transform="translate(940,2264)"><rect class="bv" width="185" height="689"/><line class="sd" x1="0" y1="21" x2="185" y2="21"/><line class="sd" x1="0" y1="41" x2="185" y2="41"/><text class="c" x="92.5" y="15">Isis::ChipViewport</text>
<text y="56"><tspan x="7">+</tspan><tspan x="19">ChipViewport()</tspan></text>
<text y="76"><tspan x="7">+</tspan><tspan x="19">~ChipViewport()</tspan></text>
<text y="96"><tspan x="7">+</tspan><tspan x="19">cubeToViewport()</tspan></text>
<text y="116"><tspan x="7">+</tspan><tspan x="19">setChip()</tspan></text>
<text y="136"><tspan x="7">+</tspan><tspan x="19">loadView()</tspan></text>
<text y="156"><tspan x="7">+</tspan><tspan x="19">chip()</tspan></text>
<text y="176"><tspan x="7">+</tspan><tspan x="19">chipCube()</tspan></text>
<text y="196"><tspan x="7">+</tspan><tspan x="19">chipSamples()</tspan></text>
<text y="216"><tspan x="7">+</tspan><tspan x="19">chipLines()</tspan></text>
<text y="236"><tspan x="7">+</tspan><tspan x="19">grayBand()</tspan></text>
<text y="256"><tspan x="7">+</tspan><tspan x="19">tackSample()</tspan></text>
<text y="276"><tspan x="7">+</tspan><tspan x="19">tackLine()</tspan></text>
<text y="296"><tspan x="7">+</tspan><tspan x="19">zoomFactor()</tspan></text>
<text y="316"><tspan x="7">+</tspan><tspan x="19">grayStretch()</tspan></text>
<text y="336"><tspan x="7">+</tspan><tspan x="19">autoStretch()</tspan></text>
<text y="356"><tspan x="7">+</tspan><tspan x="19">stretchFromCubeViewport()</tspan></text>
<text y="376"><tspan x="7">+</tspan><tspan x="19">changeStretchLock()</tspan></text>
<text y="396"><tspan x="7">+</tspan><tspan x="19">setPoints()</tspan></text>
<text y="416"><tspan x="7">+</tspan><tspan x="19">setCross()</tspan></text>
<text y="436"><tspan x="7">+</tspan><tspan x="19">rotateChip()</tspan></text>
<text y="456"><tspan x="7">+</tspan><tspan x="19">setCircle()</tspan></text>
<text y="476"><tspan x="7">+</tspan><tspan x="19">setCircleSize()</tspan></text>
<text y="496"><tspan x="7">+</tspan><tspan x="19">geomChip()</tspan></text>
<text y="516"><tspan x="7">+</tspan><tspan x="19">nogeomChip()</tspan></text>
<text y="536"><tspan x="19">and 10 more...</tspan></text>
<text y="556"><tspan x="7">#</tspan><tspan x="19">paintEvent()</tspan></text>
<text y="576"><tspan x="7">#</tspan><tspan x="19">enterEvent()</tspan></text>
<text y="596"><tspan x="7">#</tspan><tspan x="19">keyPressEvent()</tspan></text>
<text y="616"><tspan x="7">#</tspan><tspan x="19">mousePressEvent()</tspan></text>
<text y="636"><tspan x="8">-</tspan><tspan x="19">reloadChip()</tspan></text>
<text y="656"><tspan x="8">-</tspan><tspan x="19">computeStretch()</tspan></text>
<text y="676"><tspan x="8">-</tspan><tspan x="19">paintImage()</tspan></text>
</g>

</svg>
</body></html>
